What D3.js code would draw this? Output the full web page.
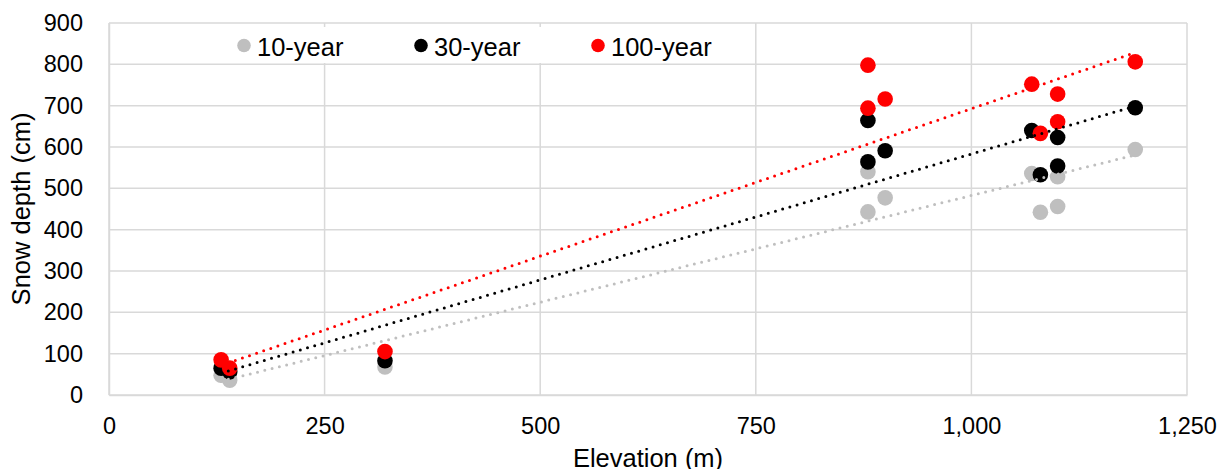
<!DOCTYPE html>
<html><head><meta charset="utf-8">
<script src="https://cdn.jsdelivr.net/npm/d3@7"></script>
<style>body{margin:0;background:#fff}text{font-family:Arial,"Liberation Sans",sans-serif}</style>
</head><body><svg id="c" width="1222" height="469"></svg>
<script>
const elevation = [130, 140, 320, 880, 880, 900, 1070, 1080, 1100, 1100, 1190];
const year10  = [48, 36, 68, 443, 540, 477, 536, 442, 528, 456, 594];
const year30  = [65, 56, 83, 564, 664, 591, 640, 533, 623, 554, 695];
const year100 = [85, 65, 105, 694, 798, 716, 752, 633, 728, 661, 806];
const seriesNames = ["10-year", "30-year", "100-year"];
const seriesColors = ["#bfbfbf", "#000000", "#ff0000"];
const xTicks = [0, 250, 500, 750, 1000, 1250];
const yTicks = [0, 100, 200, 300, 400, 500, 600, 700, 800, 900];

const series = [year10, year30, year100];
const svg = d3.select("#c");
const L = 109, R = 1187, T = 23, B = 395;
const x = d3.scaleLinear().domain([0, 1250]).range([L, R]);
const y = d3.scaleLinear().domain([0, 900]).range([B, T]);

// gridlines
svg.append("g").selectAll("line").data(yTicks).join("line")
  .attr("x1", L).attr("x2", R).attr("y1", d => y(d)).attr("y2", d => y(d))
  .attr("stroke", "#d9d9d9").attr("stroke-width", 1.5);
svg.append("g").selectAll("line").data(xTicks).join("line")
  .attr("y1", T).attr("y2", B).attr("x1", d => x(d)).attr("x2", d => x(d))
  .attr("stroke", "#d9d9d9").attr("stroke-width", 1.5);

// axes
const fmt = d3.format(",");
const xa = svg.append("g").attr("transform", `translate(0,${B})`)
  .call(d3.axisBottom(x).tickValues(xTicks).tickFormat(fmt).tickSize(0).tickPadding(22));
const ya = svg.append("g").attr("transform", `translate(${L},0)`)
  .call(d3.axisLeft(y).tickValues(yTicks).tickSize(0).tickPadding(26));
[xa, ya].forEach(a => {
  a.select(".domain").attr("stroke", "#d9d9d9").attr("stroke-width", 1.5);
  a.selectAll("text").attr("font-size", 23.5).attr("fill", "#000")
   .style("font-family", "Arial, 'Liberation Sans', sans-serif");
});

// legend box
const legend = svg.append("g");
legend.append("rect").attr("x", 222).attr("y", 27).attr("width", 520).attr("height", 36).attr("fill", "#fff");
const legX = [244, 421, 598];
seriesNames.forEach((n, i) => {
  legend.append("circle").attr("cx", legX[i]).attr("cy", 45.5).attr("r", 6.8).attr("fill", seriesColors[i]);
  legend.append("text").attr("x", legX[i] + 13).attr("y", 55.5).attr("font-size", 25.5).text(n);
});

// markers
series.forEach((s, i) => {
  svg.append("g").selectAll("circle").data(s).join("circle")
    .attr("cx", (d, j) => x(elevation[j])).attr("cy", d => y(d)).attr("r", 7.8)
    .attr("fill", seriesColors[i]);
});

// trendlines
series.forEach((s, i) => {
  const mx = d3.mean(elevation), my = d3.mean(s);
  let sxy = 0, sxx = 0;
  elevation.forEach((e, j) => { sxy += (e - mx) * (s[j] - my); sxx += (e - mx) ** 2; });
  const m = sxy / sxx, b = my - m * mx;
  const [x0, x1] = d3.extent(elevation);
  svg.append("line").attr("x1", x(x0)).attr("x2", x(x1))
    .attr("y1", y(m * x0 + b)).attr("y2", y(m * x1 + b))
    .attr("stroke", seriesColors[i]).attr("stroke-width", 3)
    .attr("stroke-linecap", "round").attr("stroke-dasharray", "0 7.5");
});

// axis titles
svg.append("text").attr("x", (L + R) / 2).attr("y", 466.5).attr("text-anchor", "middle")
  .attr("font-size", 25.5).text("Elevation (m)");
svg.append("text").attr("transform", `translate(30,${(T + B) / 2}) rotate(-90)`)
  .attr("text-anchor", "middle").attr("font-size", 25.5).text("Snow depth (cm)");
</script></body></html>
